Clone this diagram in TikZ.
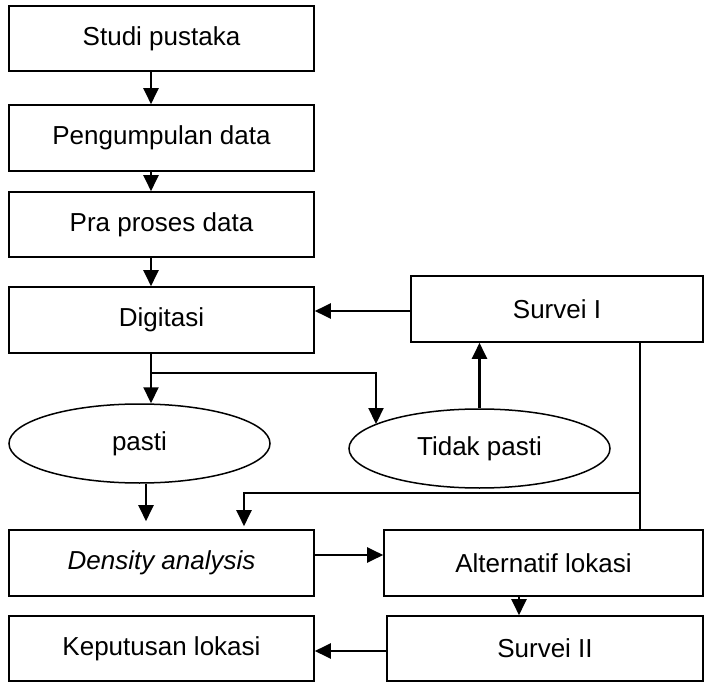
\documentclass[tikz,border=0pt]{standalone}
\usepackage{fontspec}
\setmainfont{Liberation Sans}
\usetikzlibrary{arrows.meta,shapes.geometric}
\begin{document}
\begin{tikzpicture}[x=1pt,y=-1pt,
  box/.style={draw, line width=1.6pt, rectangle, inner sep=0pt, font=\fontsize{26}{31}\selectfont},
  oval/.style={draw, line width=1.5pt, ellipse, inner sep=0pt, font=\fontsize{26}{31}\selectfont},
  arr/.style={line width=2.2pt, -{Triangle[length=16pt,width=15pt]}},
  thinln/.style={line width=1.3pt}]
\useasboundingbox (0,0) rectangle (705,682);

\node[box, minimum width=305pt, minimum height=65pt] (b1) at (161.5,38.5) {Studi pustaka};
\node[box, minimum width=305pt, minimum height=66pt] (b2) at (161.5,138) {Pengumpulan data};
\node[box, minimum width=305pt, minimum height=65pt] (b3) at (161.5,224.5) {Pra proses data};
\node[box, minimum width=305pt, minimum height=66pt] (dig) at (161.5,320) {Digitasi};
\node[box, minimum width=292pt, minimum height=66pt] (sur1) at (557,309) {Survei I};
\node[oval, minimum width=261pt, minimum height=79pt] (pasti) at (139.5,443.5) {pasti};
\node[oval, minimum width=261pt, minimum height=79pt] (tidak) at (479.5,448.5) {Tidak pasti};
\node[box, minimum width=305pt, minimum height=66pt] (dens) at (161.5,563) {\itshape Density analysis};
\node[box, minimum width=319pt, minimum height=66pt] (alt) at (543.5,563) {Alternatif lokasi};
\node[box, minimum width=305pt, minimum height=65pt] (kep) at (161.5,648.5) {Keputusan lokasi};
\node[box, minimum width=316pt, minimum height=65pt] (sur2) at (545,648.5) {Survei II};

\coordinate (ax) at (151,0);
\coordinate (px) at (146,0);
\coordinate (ax2) at (519,0);
\coordinate (br1) at (151,373);
\coordinate (br2) at (376,373);
\coordinate (tp) at (376,424);
\coordinate (j1) at (640,493);
\coordinate (j2) at (244,493);
\coordinate (dtop) at ([yshift=3pt]dens.north);
\coordinate (dtop2) at ([yshift=8pt]dens.north);
\coordinate (s1w) at ([yshift=-2pt]sur1.west);

\draw[arr] (b1.south -| ax) -- (b2.north -| ax);
\draw[arr] (b2.south -| ax) -- (b3.north -| ax);
\draw[arr] (b3.south -| ax) -- (dig.north -| ax);
\draw[arr] (s1w) -- (dig.east |- s1w);
\draw[arr] (dig.south -| ax) -- (pasti.north -| ax);
\draw[arr] (br1) -- (br2) -- (tp);
\draw[arr] (tidak.north) -- (sur1.south -| tidak.north);
\draw[thinln] (alt.north -| j1) -- (sur1.south -| j1);
\draw[arr] (j1) -- (j2) -- (dtop -| j2);
\draw[arr] (pasti.south -| px) -- (dtop2 -| px);
\draw[arr] ([yshift=8pt]dens.east) -- ([yshift=8pt]alt.west);
\draw[arr] (alt.south -| ax2) -- (sur2.north -| ax2);
\draw[arr] ([yshift=-2.5pt]sur2.west) -- ([yshift=-2.5pt]kep.east);
\end{tikzpicture}
\end{document}
